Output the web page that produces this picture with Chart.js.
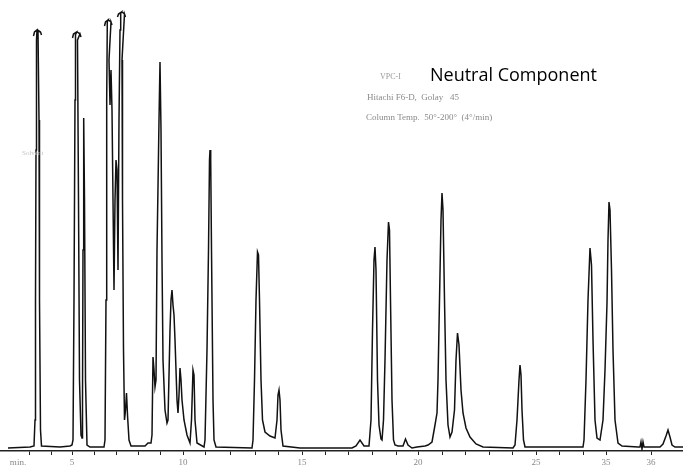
<!DOCTYPE html>
<html lang="en">
<head>
<meta charset="UTF-8">
<title>VPC-I Neutral Component</title>
<script src="https://cdn.jsdelivr.net/npm/chart.js"></script>
<style>
  html, body { margin: 0; padding: 0; background: #fff; }
  #wrap { width: 683px; height: 467px; }
</style>
</head>
<body>
<div id="wrap"><canvas id="gc"></canvas></div>
<script>
// recorder chart position (x) and detector deflection (y)
// off-scale peaks keep the little pen flourish at the top
const chartPos = [
  8, 30, 34, 35, 35.5, 36, 36.5, 37, 34.5, 33.5, 34.5, 37.5, 40.5, 41.5, 40.5, 38, 39, 39.5, 40.5, 41.5, 60, 70,
  72, 73, 74, 75, 75.5, 76.5, 73.5, 72.5, 73.5, 77, 80, 81, 80, 77.5, 78.5, 79.5, 81, 82, 82.5, 83, 83.7, 84.5, 85.5, 87, 90, 104,
  105, 106, 106.7, 107.3, 108, 105.5, 104.5, 105.5, 108.5, 111, 112, 111, 109, 110, 111, 112, 113, 114, 115, 116, 117, 118, 119, 120, 120.7, 121.5, 118.5, 117.5, 118.5, 122, 124.5, 125.5, 124.5, 122, 122.5, 123.5, 124.5, 125.5, 126.5, 127.5, 129, 131,
  145, 148, 151, 152, 153, 154, 155, 156, 157, 158, 159, 160, 161, 162, 163, 165, 167, 168, 170, 171, 172, 173, 174, 175, 177, 178, 179, 180, 181, 182, 184, 187, 190, 191.5, 193, 194, 195, 197, 204,
  205, 207, 208.5, 209.5, 210, 210.7, 211.5, 213, 214, 216, 252,
  253, 254.5, 256, 257.5, 258.5, 259.5, 261, 262.5, 265, 270, 275, 277, 278, 279, 280, 281, 283, 300, 352,
  356, 360, 364, 369, 371, 372.5, 374, 375, 376, 377.5, 379, 381, 382, 383.5, 385, 387, 388.5, 389.5, 390.5, 392, 393.5, 395, 398, 403, 405.5, 408, 412, 417, 425, 428,
  432, 435, 437, 438, 439.5, 441, 442, 443, 444.5, 446, 448, 450, 452, 454.5, 456, 457.5, 459, 461, 463, 466, 470, 476, 483, 513,
  515, 517, 519, 520, 521, 522, 523.5, 525, 583,
  584, 586, 588, 590, 591.5, 593, 595, 597, 600, 603, 605, 607, 608, 609, 610, 611.5, 613, 615, 618, 622, 638,
  640, 641, 642, 643, 644, 660, 663, 666, 668, 670, 672, 675, 683
];
const signal = [
  3, 4, 5, 31, 151, 301, 411, 421, 419, 415, 419, 421, 419, 416, 419, 420, 331, 151, 21, 5, 4, 5,
  6, 11, 151, 351, 416, 419, 417, 413, 417, 419, 417, 414, 417, 411, 251, 71, 16, 13, 51, 201, 333, 251, 71, 6, 4, 4,
  11, 151, 351, 429, 431, 429, 425, 429, 431, 429, 426, 429, 391, 346, 381, 341, 251, 161, 251, 291, 281, 181, 331, 421, 437, 439, 437, 434, 437, 439, 437, 434, 437, 391, 251, 101, 31, 41, 58, 36, 11, 5,
  5, 8, 8, 16, 94, 81, 64, 71, 201, 264, 331, 389, 321, 191, 91, 41, 28, 31, 121, 151, 161, 146, 136, 111, 51, 38, 56, 83, 71, 51, 31, 16, 8, 31, 81, 76, 31, 8, 4,
  11, 101, 201, 291, 301, 291, 201, 51, 11, 4, 3,
  11, 71, 151, 199, 196, 151, 71, 31, 19, 15, 13, 31, 56, 61, 51, 21, 5, 3, 3,
  5, 11, 5, 5, 31, 121, 191, 204, 181, 71, 26, 12, 11, 31, 91, 191, 229, 221, 151, 51, 11, 6, 5, 5, 12, 6, 3, 4, 5, 6,
  9, 26, 38, 71, 151, 231, 258, 241, 151, 71, 26, 14, 19, 41, 91, 118, 106, 61, 38, 23, 14, 7, 4, 3,
  6, 31, 71, 86, 76, 41, 11, 4, 4,
  11, 71, 151, 203, 186, 111, 31, 13, 11, 31, 81, 148, 211, 249, 241, 181, 101, 31, 8, 5, 4,
  4, 9, 2, 9, 4, 4, 7, 15, 21, 14, 6, 4, 4
];

// time axis
const tickPos = [18, 29, 51, 72, 94, 116, 138, 160, 183, 205, 230, 255, 278, 302, 325, 348, 372, 396, 418, 442, 465, 489, 512, 536, 559, 583, 606, 651];
const tickText = { 18: 'min.', 72: '5', 183: '10', 302: '15', 418: '20', 536: '25', 606: '35', 651: '36' };

const points = chartPos.map((x, i) => ({ x: x, y: signal[i] }));

const annotate = {
  id: 'annotate',
  afterDraw(chart) {
    const ctx = chart.ctx;
    ctx.save();
    ctx.textBaseline = 'middle';
    ctx.fillStyle = '#999';
    ctx.font = '8px "Liberation Serif"';
    ctx.fillText('VPC-I', 380, 77, 22);
    ctx.fillStyle = '#000';
    ctx.font = '18px "Open Sans"';
    ctx.fillText('Neutral Component', 430, 76, 176);
    ctx.fillStyle = '#8a8a8a';
    ctx.font = '9px "Liberation Serif"';
    ctx.fillText('Hitachi F6-D,  Golay   45', 367, 98, 92);
    ctx.fillText('Column Temp.  50°-200°  (4°/min)', 366, 118, 200);
    ctx.fillStyle = '#c4c4c4';
    ctx.font = '7px "Liberation Serif"';
    ctx.fillText('Solvent', 22, 153, 30);
    ctx.restore();
  }
};

new Chart(document.getElementById('gc'), {
  type: 'line',
  data: {
    datasets: [{
      data: points,
      borderColor: '#111',
      borderWidth: 1.5,
      pointRadius: 0,
      tension: 0,
      fill: false
    }]
  },
  options: {
    responsive: true,
    maintainAspectRatio: false,
    animation: false,
    layout: { padding: 0 },
    plugins: { legend: { display: false }, tooltip: { enabled: false } },
    scales: {
      x: {
        type: 'linear',
        min: 0,
        max: 683,
        afterBuildTicks: axis => { axis.ticks = tickPos.map(v => ({ value: v })); },
        afterFit: axis => { axis.height = 16; },
        border: { color: '#222', width: 1.5 },
        grid: {
          drawOnChartArea: false,
          tickLength: 4,
          color: c => (c.tick && c.tick.value === 18) ? 'rgba(0,0,0,0)' : '#222'
        },
        ticks: {
          autoSkip: false,
          maxRotation: 0,
          padding: 2,
          color: '#888',
          font: { size: 9, family: 'Liberation Serif' },
          callback: v => tickText[v] || ''
        }
      },
      y: {
        display: false,
        min: 0,
        max: 451
      }
    }
  },
  plugins: [annotate]
});
</script>
</body>
</html>
